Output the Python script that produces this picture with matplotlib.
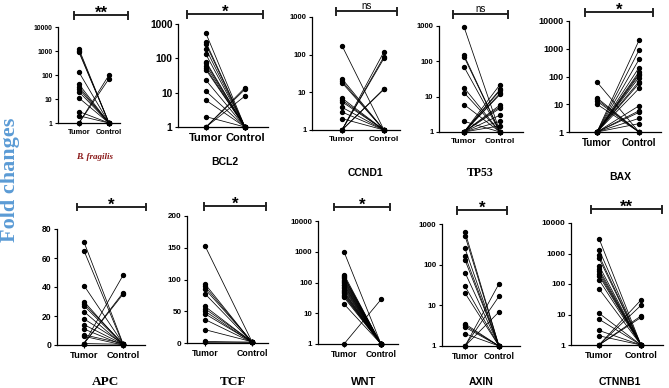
import matplotlib
matplotlib.use('Agg')
import matplotlib.pyplot as plt
from matplotlib.lines import Line2D

W, H = 669, 388

# fold change values, paired tumor -> control
bfrag_tumor = [1200, 1000, 880, 130, 41, 32, 26, 20, 11, 3, 2, 1, 1]
bfrag_control = [1, 1, 1, 1, 1, 1, 1, 1, 1, 1, 1, 100, 70]

bcl2_tumor = [530, 290, 255, 186, 130, 80, 72, 61, 51, 46, 23, 11, 6, 2, 1, 1, 1]
bcl2_control = [1, 1, 1, 1, 1, 1, 1, 1, 1, 1, 1, 1, 1, 1, 14, 12.5, 8]

ccnd1_tumor = [173, 23, 20, 18, 7, 6.2, 5.6, 4, 3, 2, 1, 1, 1, 1, 1]
ccnd1_control = [1, 1, 1, 1, 1, 1, 1, 1, 1, 1, 120, 89, 80, 12.5, 12]

tp53_tumor = [950, 150, 135, 70, 18, 13, 6, 2, 1, 1, 1, 1, 1, 1, 1, 1, 1, 1, 1]
tp53_control = [1, 1, 1, 1, 1, 1, 1, 1, 22, 16, 15, 12.4, 11.6, 5.8, 5.2, 4.7, 3, 2, 1.5]

bax_tumor = [63, 17, 15, 13, 10, 1, 1, 1, 1, 1, 1, 1, 1, 1, 1, 1, 1, 1, 1, 1, 1]
bax_control = [1, 1, 1, 1, 1, 2000, 890, 410, 210, 147, 127, 112, 92, 66, 56, 37,
               8.8, 5.8, 5.1, 3.1, 2]

apc_tumor = [71, 65, 41, 30, 28.5, 27, 23, 18, 14, 11, 7, 6, 1, 1, 1, 1]
apc_control = [1, 0.5, 1, 0, 1, 0.5, 0, 1, 0.5, 0, 1, 0, 0.5, 48, 36, 35]

tcf_tumor = [153, 93, 89, 85, 77.5, 57.6, 54, 50, 46, 37, 21, 2.5, 1]
tcf_control = [2, 1, 1.5, 2, 1, 1.5, 2, 1, 1.5, 1, 2, 1, 1.5]

wnt_tumor = [1000, 182, 160, 152, 140, 125, 115, 105, 95, 86, 80, 72, 65, 59, 52,
             48, 44, 40, 37, 33, 20, 1]
wnt_control = [1, 1, 1, 1, 1, 1, 1, 1, 1, 1, 1, 1, 1, 1, 1, 1, 1, 1, 1, 1, 1, 28]

axin_tumor = [645, 515, 250, 165, 130, 64, 29.5, 20, 3.5, 3.2, 2.9, 2, 1, 1, 1]
axin_control = [1, 1, 1, 1, 1, 1, 1, 1, 1, 1, 1, 1, 34, 16.7, 6.9]

ctnnb1_tumor = [3100, 1350, 860, 700, 400, 310, 260, 220, 188, 138, 70, 11, 7, 3, 2,
                1, 1, 1, 1]
ctnnb1_control = [1, 1, 1, 1, 1, 1, 1, 1, 1, 1, 1, 1, 1, 1, 1, 30, 20, 9, 8]

genes = ['B. fragilis', 'BCL2', 'CCND1', 'TP53', 'BAX',
         'APC', 'TCF', 'WNT', 'AXIN', 'CTNNB1']
tumors = [bfrag_tumor, bcl2_tumor, ccnd1_tumor, tp53_tumor, bax_tumor,
          apc_tumor, tcf_tumor, wnt_tumor, axin_tumor, ctnnb1_tumor]
controls = [bfrag_control, bcl2_control, ccnd1_control, tp53_control, bax_control,
            apc_control, tcf_control, wnt_control, axin_control, ctnnb1_control]
signif = ['**', '*', 'ns', 'ns', '*', '*', '*', '*', '*', '**']
scales = ['log', 'log', 'log', 'log', 'log', 'linear', 'linear', 'log', 'log', 'log']
yticks = [[1, 10, 100, 1000, 10000], [1, 10, 100, 1000], [1, 10, 100, 1000],
          [1, 10, 100, 1000], [1, 10, 100, 1000, 10000], [0, 20, 40, 60, 80],
          [0, 50, 100, 150, 200], [1, 10, 100, 1000, 10000], [1, 10, 100, 1000],
          [1, 10, 100, 1000, 10000]]

# layout in pixels: y-axis x, top y, bottom y, tumor x, control x, axis end x,
# bracket x1, x2, y, label x, y, tick font size
layout = [
    (58, 27, 123, 79, 109, 120, 74, 128, 15, 95, 157, 5.3),
    (178, 24, 127, 206, 245, 268, 187, 263, 14, 225, 162, 8.0),
    (312, 17, 130, 342, 384, 400, 336, 397, 11, 365, 173, 6.0),
    (439, 26, 132, 464, 500, 523, 453, 508, 14, 480, 173, 6.0),
    (569, 21, 132, 597, 639, 661, 585, 653, 12, 620, 177, 7.0),
    (57, 229, 345, 84, 123, 145, 77, 146, 207, 106, 382, 6.7),
    (187, 216, 343, 205, 252, 268, 204, 266, 206, 233, 382, 6.3),
    (318, 221, 344, 344, 381, 398, 334, 390, 207, 364, 382, 6.2),
    (442, 224, 346, 465, 499, 520, 457, 507, 210, 481, 382, 6.2),
    (571, 223, 345, 599, 641, 663, 591, 662, 209, 620, 382, 6.6),
]

label_style = [
    dict(family='Liberation Serif', style='italic', weight='bold', color='#8B1A1A', size=6.5),
    dict(family='Liberation Sans', weight='bold', size=7.5),
    dict(family='Liberation Sans', weight='bold', size=7.5),
    dict(family='Liberation Serif', weight='bold', size=8.5),
    dict(family='Liberation Sans', weight='bold', size=7.5),
    dict(family='Liberation Serif', weight='bold', size=9.5),
    dict(family='Liberation Serif', weight='bold', size=9.5),
    dict(family='Liberation Sans', weight='bold', size=8),
    dict(family='Liberation Sans', weight='bold', size=7.5),
    dict(family='Liberation Sans', weight='bold', size=7.5),
]

fig = plt.figure(figsize=(W / 100, H / 100), dpi=100)


def fx(x):
    return x / W


def fy(y):
    return 1 - y / H


for i in range(10):
    yx, top, bot, tx, cx, end, bx1, bx2, by, lx, ly, fs = layout[i]
    ax = fig.add_axes([fx(yx), fy(bot), (end - yx) / W, (bot - top) / H])
    unit = cx - tx
    ax.set_xlim((yx - tx) / unit, (end - tx) / unit)
    ax.set_yscale(scales[i])
    ax.set_ylim(yticks[i][0], yticks[i][-1])

    for t, c in zip(tumors[i], controls[i]):
        ax.plot([0, 1], [t, c], color='black', lw=0.55, clip_on=False, zorder=2)
    ax.scatter([0] * len(tumors[i]), tumors[i], s=8, color='black', zorder=3, clip_on=False)
    ax.scatter([1] * len(controls[i]), controls[i], s=8, color='black', zorder=3, clip_on=False)

    ax.set_yticks(yticks[i])
    ax.set_yticklabels([str(v) for v in yticks[i]])
    ax.minorticks_off()
    ax.set_xticks([0, 1])
    ax.set_xticklabels(['Tumor', 'Control'])
    for lab in ax.get_xticklabels():
        lab.set_fontfamily('Liberation Sans')
        lab.set_fontweight('bold')
        lab.set_fontsize(fs)
    for lab in ax.get_yticklabels():
        lab.set_fontfamily('Liberation Sans')
        lab.set_fontweight('bold')
        lab.set_fontsize(fs * 0.92)
    ax.tick_params(axis='both', length=2.5, width=0.8, pad=1.5)
    ax.spines['top'].set_visible(False)
    ax.spines['right'].set_visible(False)
    ax.spines['left'].set_linewidth(0.9)
    ax.spines['bottom'].set_linewidth(0.9)
    ax.patch.set_alpha(0)

    # significance bracket
    fig.add_artist(Line2D([fx(bx1), fx(bx2)], [fy(by), fy(by)], color='#222222', lw=1.4))
    fig.add_artist(Line2D([fx(bx1), fx(bx1)], [fy(by - 3.5), fy(by + 3.5)], color='#222222', lw=1.4))
    fig.add_artist(Line2D([fx(bx2), fx(bx2)], [fy(by - 3.5), fy(by + 3.5)], color='#222222', lw=1.4))
    if signif[i] == 'ns':
        fig.text(fx((bx1 + bx2) / 2), fy(by - 2), 'ns', ha='center', va='baseline',
                 fontsize=7, family='Liberation Sans')
    else:
        fig.text(fx((bx1 + bx2) / 2), fy(by + 3), signif[i], ha='center', va='baseline',
                 fontsize=12, family='Liberation Sans', weight='bold')

    fig.text(fx(lx), fy(ly), genes[i], ha='center', va='center', **label_style[i])

fig.text(fx(10), fy(180), 'Fold changes', rotation=90, ha='center', va='center',
         fontsize=16, family='Liberation Serif', weight='bold', color='#5B9BD5')

fig.savefig('out.png', dpi=100)
